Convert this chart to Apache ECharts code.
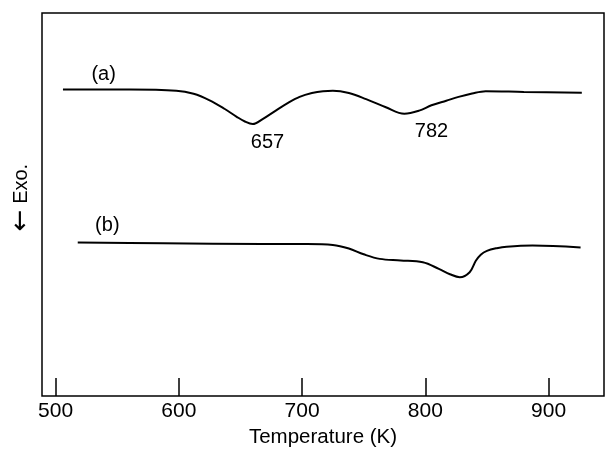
<!DOCTYPE html>
<html>
<head>
<meta charset="utf-8">
<script src="https://cdn.jsdelivr.net/npm/echarts@6/dist/echarts.min.js"></script>
<style>html,body{margin:0;padding:0;background:#fff}#c{width:607px;height:451px}</style>
</head>
<body>
<div id="c"></div>
<script>
// Temperature (K) and DSC signal (arbitrary units)
var tempA = [506, 560, 598, 612, 625, 637, 647, 654, 660, 668, 679, 689, 698, 708, 717, 725, 738, 752, 768, 783, 795, 805, 817, 827, 838, 849, 880, 927];
var sigA  = [80.0, 80.0, 79.7, 78.9, 77.2, 75.0, 72.9, 71.6, 71.0, 72.3, 74.6, 76.6, 78.1, 79.1, 79.6, 79.7, 79.1, 77.5, 75.4, 73.7, 74.5, 75.9, 77.1, 78.1, 79.0, 79.6, 79.4, 79.2];
var tempB = [518, 587, 668, 704, 725, 738, 750, 763, 780, 798, 811, 820, 828, 836, 841, 845, 850, 858, 866, 887, 926];
var sigB  = [40.1, 39.9, 39.7, 39.7, 39.45, 38.5, 37.0, 35.8, 35.4, 34.9, 33.2, 31.8, 31.0, 32.3, 35.3, 36.9, 37.9, 38.6, 39.0, 39.3, 38.8];
var xTicks = [500, 600, 700, 800, 900];
var annText = ['(a)', '(b)', '657', '782'];
var annX = [539, 542, 672, 805];
var annY = [84.0, 44.5, 66.2, 69.1];

function pairs(xs, ys) { return xs.map(function (x, i) { return [x, ys[i]]; }); }

var chart = echarts.init(document.getElementById('c'));
var font = 'Liberation Sans, Arial, sans-serif';
chart.setOption({
  animation: false,
  grid: { left: 42, right: 3, top: 13, bottom: 55, show: true, borderColor: '#000', borderWidth: 1.5, outerBoundsMode: 'none', containLabel: false },
  xAxis: {
    type: 'value', min: 489, max: 945,
    axisLine: { show: false },
    axisTick: { show: true, inside: true, length: 18, lineStyle: { color: '#000', width: 1.5 }, customValues: xTicks },
    axisLabel: { color: '#000', fontSize: 21, fontFamily: font, margin: 5, customValues: xTicks },
    splitLine: { show: false },
    name: 'Temperature (K)', nameLocation: 'middle', nameGap: 27,
    nameTextStyle: { color: '#000', fontSize: 20.5, fontFamily: font, verticalAlign: 'top' }
  },
  yAxis: {
    type: 'value', min: 0, max: 100,
    axisLine: { show: false }, axisTick: { show: false }, axisLabel: { show: false }, splitLine: { show: false },
    name: '{arr|\u2190}{t| Exo.}', nameLocation: 'middle', nameGap: 8, nameRotate: 90,
    nameTextStyle: {
      color: '#000', fontSize: 20, fontFamily: font, padding: [0, 0, 0, 14],
      rich: { arr: { fontFamily: 'DejaVu Sans', fontSize: 26, color: '#000' }, t: { fontSize: 20, fontFamily: font, color: '#000' } }
    }
  },
  series: [
    { type: 'line', data: pairs(tempA, sigA), smooth: 0.35, symbol: 'none', lineStyle: { color: '#000', width: 2 } },
    { type: 'line', data: pairs(tempB, sigB), smooth: 0.35, symbol: 'none', lineStyle: { color: '#000', width: 2 } }
  ]
});
chart.setOption({
  graphic: annText.map(function (t, i) {
    var p = chart.convertToPixel({ gridIndex: 0 }, [annX[i], annY[i]]);
    return {
      type: 'text', x: p[0], y: p[1], silent: true,
      style: { text: t, fill: '#000', font: '20px ' + font, textAlign: 'center', textVerticalAlign: 'middle' }
    };
  })
});
</script>
</body>
</html>
